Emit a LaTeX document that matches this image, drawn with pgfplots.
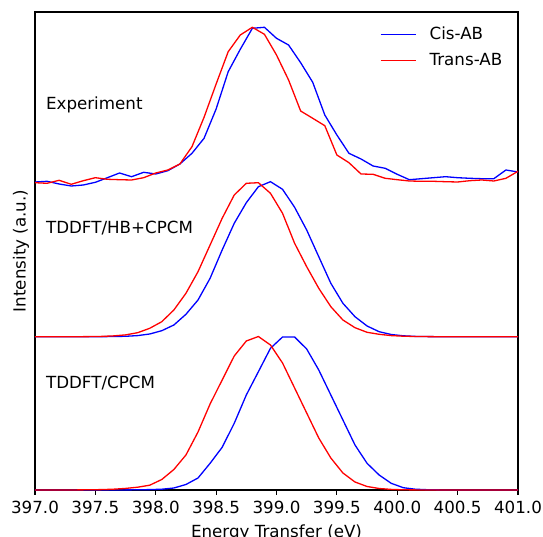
\documentclass[border=0pt]{standalone}
\usepackage{pgfplots}
\pgfplotsset{compat=1.18}
\usepackage{pgfplotstable}
\usepackage{fontspec}
\setmainfont{DejaVu Sans}

\pgfplotstableread{
x y
397.0 308
397.1 308.7
397.2 306
397.3 304
397.4 305
397.5 307.7
397.6 312.3
397.7 317
397.8 313.3
397.9 317.7
398.0 316
398.1 319.3
398.2 326
398.3 336.7
398.4 351.7
398.5 381
398.6 418.3
398.7 440.7
398.8 461.7
398.9 462.7
399.0 451.7
399.1 445
399.2 427.3
399.3 407.7
399.4 375
399.5 355
399.6 336.7
399.7 331
399.8 324
399.9 321.7
400.0 315.7
400.1 310.3
400.2 311.3
400.3 312.3
400.4 313.3
400.5 312.3
400.6 311.7
400.7 311.3
400.8 311.3
400.9 320
401.0 318
}\expcis

\pgfplotstableread{
x y
397.0 307.3
397.1 306.7
397.2 309.7
397.3 305.7
397.4 309.3
397.5 312.3
397.6 310.7
397.7 310.3
397.8 310
397.9 312.3
398.0 317
398.1 320
398.2 326
398.3 343.3
398.4 372.7
398.5 406
398.6 438.3
398.7 455
398.8 462.7
398.9 455.7
399.0 435
399.1 410
399.2 379
399.3 371.7
399.4 364.3
399.5 335
399.6 327.3
399.7 316
399.8 315.7
399.9 311.7
400.0 310.3
400.1 309
400.2 308.7
400.3 308.7
400.4 308.3
400.5 308
400.6 309.3
400.7 310
400.8 309
400.9 311.7
401.0 318.7
}\exptrans

\pgfplotstableread{
x y
396.95 153.3
397.05 153.3
397.15 153.3
397.25 153.3
397.35 153.3
397.45 153.3
397.55 153.3
397.65 153.5
397.75 153.7
397.85 154.4
397.95 156
398.05 159.3
398.15 165
398.25 175.7
398.35 190
398.45 211.7
398.55 240
398.65 266.7
398.75 287.3
398.85 303.3
398.95 308.3
399.05 300.7
399.15 282.7
399.25 260
399.35 233.3
399.45 206.7
399.55 186.7
399.65 173.3
399.75 164
399.85 158.3
399.95 155.5
400.05 154.2
400.15 153.6
400.25 153.4
400.35 153.3
400.45 153.3
400.55 153.3
400.65 153.3
400.75 153.3
400.85 153.3
400.95 153.3
401.05 153.3
}\hbcis

\pgfplotstableread{
x y
396.95 153.3
397.05 153.3
397.15 153.3
397.25 153.3
397.35 153.3
397.45 153.4
397.55 153.6
397.65 154.1
397.75 155.1
397.85 157.3
397.95 161.7
398.05 168.3
398.15 180
398.25 196.7
398.35 218.3
398.45 245
398.55 271.7
398.65 295
398.75 306.7
398.85 307.3
398.95 296.7
399.05 276.7
399.15 246.7
399.25 223.3
399.35 201.7
399.45 183.3
399.55 170
399.65 162.3
399.75 157.7
399.85 155.7
399.95 154.4
400.05 153.8
400.15 153.5
400.25 153.4
400.35 153.3
400.45 153.3
400.55 153.3
400.65 153.3
400.75 153.3
400.85 153.3
400.95 153.3
401.05 153.3
}\hbtrans

\pgfplotstableread{
x y
396.95 0
397.05 0
397.15 0
397.25 0
397.35 0
397.45 0
397.55 0
397.65 0
397.75 0.1
397.85 0.2
397.95 0.4
398.05 0.8
398.15 2
398.25 5.5
398.35 12
398.45 26.7
398.55 42.7
398.65 66.7
398.75 95
398.85 118.3
398.95 141.7
399.05 153
399.15 153
399.25 141
399.35 120
399.45 95
399.55 70
399.65 45
399.75 26.7
399.85 15
399.95 6.7
400.05 2.3
400.15 0.8
400.25 0.3
400.35 0.1
400.45 0
400.55 0
400.65 0
400.75 0
400.85 0
400.95 0
401.05 0
}\cpcmcis

\pgfplotstableread{
x y
396.95 0
397.05 0
397.15 0
397.25 0
397.35 0.1
397.45 0.2
397.55 0.4
397.65 0.8
397.75 1.6
397.85 2.8
397.95 4.8
398.05 10.5
398.15 20.5
398.25 35
398.35 58
398.45 86
398.55 110
398.65 134
398.75 149
398.85 153.5
398.95 145
399.05 127
399.15 102
399.25 77
399.35 52
399.45 32
399.55 17
399.65 8
399.75 3.5
399.85 1.5
399.95 0.6
400.05 0.2
400.15 0.1
400.25 0
400.35 0
400.45 0
400.55 0
400.65 0
400.75 0
400.85 0
400.95 0
401.05 0
}\cpcmtrans

\pgfplotsset{
  mylegend/.style={
    legend style={at={(rel axis cs:0,1)}, anchor=north west, draw=none, fill=none,
      inner sep=0pt, outer sep=0pt, xshift=345bp, yshift=#1, column sep=10.6bp},
    legend cell align=left,
    legend image code/.code={\draw[##1] (0bp,0bp) -- (35.7bp,0bp);},
  },
}

\begin{document}
\fontsize{16.7bp}{20bp}\selectfont
\begin{tikzpicture}
\begin{axis}[
  scale only axis,
  width=483bp, height=478bp,
  xmin=397, xmax=401, ymin=0, ymax=478,
  xtick={397,397.5,...,401},
  ytick=\empty,
  xtick pos=left,
  tick align=outside,
  major tick length=4.9bp,
  tick style={line width=1.1bp, black},
  axis line style={line width=1.1bp},
  /pgf/number format/.cd, fixed, fixed zerofill, precision=1, assume math mode=true,
  /pgfplots/.cd,
  xlabel={Energy Transfer (eV)},
  ylabel={Intensity (a.u.)},
  ylabel style={at={(axis description cs:0,0.5)}, anchor=south, rotate=0, inner sep=5.6bp},
  mylegend=-13.1bp,
]
\coordinate (O) at (rel axis cs:0,0);
\addlegendimage{color=blue, line width=1.3bp}
\addlegendentry{Cis-AB}
\addplot[color=blue, line width=1.3bp, no markers, forget plot] table {\expcis};
\addplot[color=red, line width=1.3bp, no markers, forget plot] table {\exptrans};
\addplot[color=blue, line width=1.3bp, no markers, forget plot] table {\hbcis};
\addplot[color=red, line width=1.3bp, no markers, forget plot] table {\hbtrans};
\addplot[color=blue, line width=1.3bp, no markers, forget plot] table {\cpcmcis};
\addplot[color=red, line width=1.3bp, no markers, forget plot] table {\cpcmtrans};
\node[anchor=base west, inner sep=0pt] at (axis cs:397.09,380) {Experiment};
\node[anchor=base west, inner sep=0pt] at (axis cs:397.09,256) {TDDFT/HB+CPCM};
\node[anchor=base west, inner sep=0pt] at (axis cs:397.09,101) {TDDFT/CPCM};
\end{axis}
\begin{axis}[
  scale only axis,
  width=483bp, height=478bp,
  xmin=397, xmax=401, ymin=0, ymax=478,
  hide axis,
  mylegend=-39.1bp,
]
\addlegendimage{color=red, line width=1.3bp}
\addlegendentry{Trans-AB}
\end{axis}
\pgfresetboundingbox
\path[use as bounding box] ([shift={(-35bp,-47bp)}]O) rectangle ([shift={(508bp,490bp)}]O);
\end{tikzpicture}
\end{document}
